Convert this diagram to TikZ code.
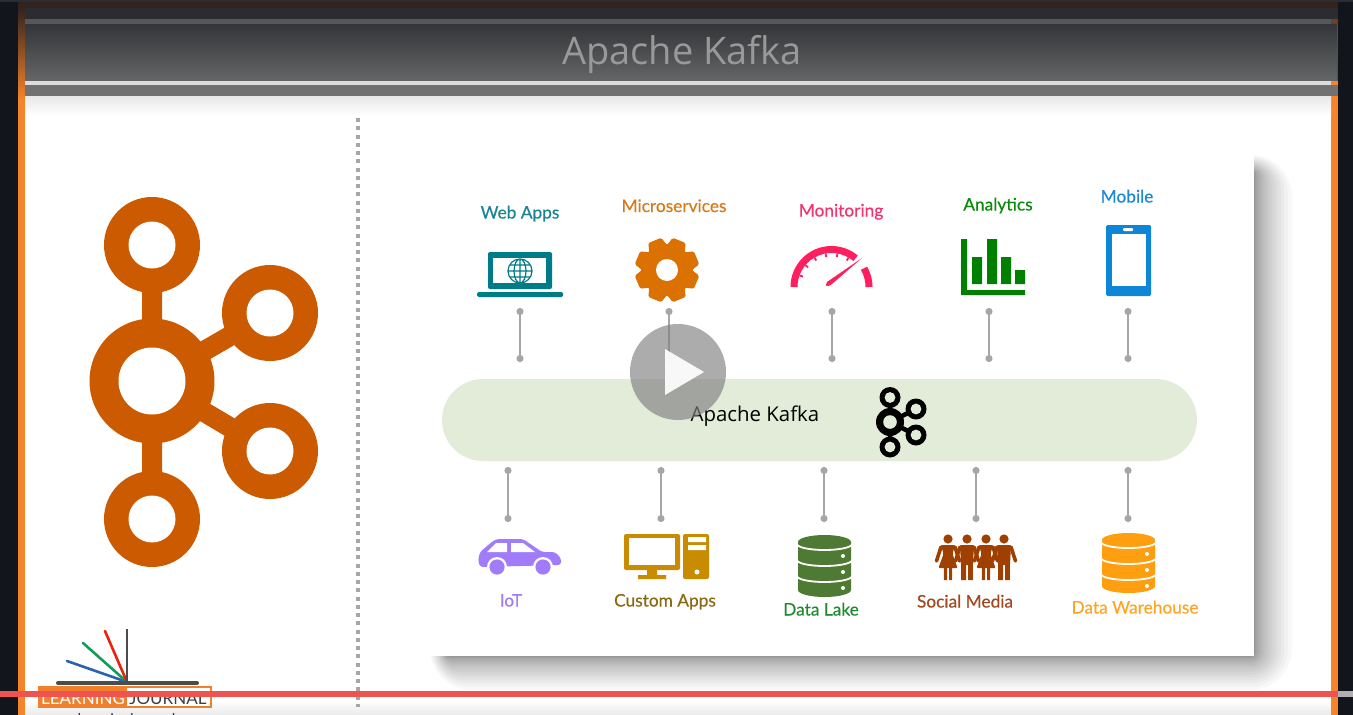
\documentclass[tikz,border=0pt]{standalone}
\usepackage{fontspec}
\setmainfont{Lato}
\newfontfamily\titlefont{Open Sans}
\newfontfamily\lblfont[FakeBold=0.3]{Lato}
\usetikzlibrary{arrows.meta}
\definecolor{kafkaor}{HTML}{CB5A00}
\definecolor{frameor}{HTML}{F5842B}
\definecolor{darkbg}{HTML}{12161C}
\definecolor{topbrown}{HTML}{33231F}
\definecolor{hdra}{HTML}{2A2C30}
\definecolor{hdrb}{HTML}{55575A}
\definecolor{hdrc}{HTML}{333538}
\definecolor{hdrd}{HTML}{656667}
\definecolor{hdre}{HTML}{DDDDDD}
\definecolor{hdrf}{HTML}{707170}
\definecolor{hdrg}{HTML}{6B4A35}
\definecolor{pillgr}{HTML}{E2ECD9}
\definecolor{linkgr}{HTML}{A6A6A6}
\definecolor{cteal}{HTML}{007C89}
\definecolor{cgear}{HTML}{DB7100}
\definecolor{cpink}{HTML}{FF1F5F}
\definecolor{cgreen}{HTML}{008000}
\definecolor{cblue}{HTML}{0D86D8}
\definecolor{ccar}{HTML}{A07CFB}
\definecolor{cpc}{HTML}{C98B00}
\definecolor{clake}{HTML}{4F7A33}
\definecolor{cpeople}{HTML}{A04000}
\definecolor{cware}{HTML}{FF9F0F}
\definecolor{twebapps}{HTML}{1A8494}
\definecolor{tmicro}{HTML}{D97A1A}
\definecolor{tmon}{HTML}{F5326E}
\definecolor{tana}{HTML}{0A8A0A}
\definecolor{tmob}{HTML}{1A8AD4}
\definecolor{tcust}{HTML}{8A6A10}
\definecolor{tlake}{HTML}{1E8A2E}
\definecolor{tsoc}{HTML}{A0481E}
\definecolor{tware}{HTML}{FFA522}
\definecolor{jblue}{HTML}{2A63AD}
\definecolor{jgreen}{HTML}{0F9D58}
\definecolor{jred}{HTML}{E8220F}
\definecolor{jor}{HTML}{F0802C}
\definecolor{barred}{HTML}{EF5350}
\definecolor{bargray}{HTML}{B0B0B4}
\definecolor{urlblue}{HTML}{1F3A5F}
\tikzset{
  lbl/.style={anchor=base,font=\lblfont\fontsize{17.3}{20}\selectfont,inner sep=0pt},
  link/.style={draw=linkgr,line width=2pt,{Circle[length=7pt,width=7pt]}-{Circle[length=7pt,width=7pt]},shorten >=-3pt,shorten <=-3pt},
  kfk/.style={line width=20pt,draw=kafkaor},
  skfk/.style={line width=4.5pt,draw=black},
}
\newcommand{\dbicon}[6]{% cx top rx bottom colour dotx
  \fill[#5] (#1-#3,#2+7) arc[start angle=180,end angle=360,x radius=#3,y radius=7]
    -- (#1+#3,#4-7) arc[start angle=0,end angle=180,x radius=#3,y radius=7] -- cycle;
  \pgfmathsetmacro{\sa}{#2+9}\pgfmathsetmacro{\sb}{#2+25}\pgfmathsetmacro{\sc}{#2+41}
  \foreach \yy in {\sa,\sb,\sc}{
    \draw[white,line width=1.8pt] (#1-#3-1,\yy) arc[start angle=180,end angle=0,x radius=#3+1,y radius=6];
  }
  \foreach \dd in {0,16,32}{ \fill[white] (#6,#2+21+\dd) circle[radius=2]; }
}
\newcommand{\figarms}[1]{%
  \fill[cpeople] (#1,539) circle[radius=4.6];
  \draw[cpeople,line width=3.6pt,line cap=round] (#1-7,547) -- (#1-11.5,561) (#1+7,547) -- (#1+11.5,561);
}
\newcommand{\figwoman}[1]{%
  \figarms{#1}
  \fill[cpeople,rounded corners=1pt] (#1-7,545) -- (#1+7,545) -- (#1+4.5,554) -- (#1+9.5,568) -- (#1-9.5,568) -- (#1-4.5,554) -- cycle;
  \fill[cpeople] (#1-4.2,567) rectangle (#1-1,580) (#1+1,567) rectangle (#1+4.2,580);
}
\newcommand{\figman}[1]{%
  \figarms{#1}
  \fill[cpeople,rounded corners=1pt] (#1-7,545) -- (#1+7,545) -- (#1+6,565) -- (#1-6,565) -- cycle;
  \fill[cpeople] (#1-5.8,563) rectangle (#1-1,580) (#1+1,563) rectangle (#1+5.8,580);
}
\begin{document}
\begin{tikzpicture}[x=1pt,y=-1pt]
\useasboundingbox (0,0) rectangle (1353,715);
\clip (0,0) rectangle (1353,715);
% page
\fill[white] (0,0) rectangle (1353,715);
\shade[top color=white,bottom color=black!8] (25,700) rectangle (1331,715);
\fill[darkbg] (0,0) rectangle (18,715);
\fill[darkbg] (1338,0) rectangle (1353,715);
\fill[frameor] (18,100) rectangle (25,715);
\fill[frameor] (1331,96) rectangle (1338,715);
\shade[top color=topbrown,bottom color=frameor] (18,8) rectangle (25,100);
\fill[topbrown] (18,2) rectangle (1338,8);
\fill[darkbg!90!white] (0,0) rectangle (1353,2);
% header
\fill[hdra] (25,8) rectangle (1338,19);
\fill[hdrb] (25,19) rectangle (1331,24);
\fill[topbrown!70!frameor] (1331,19) rectangle (1338,24);
\shade[top color=hdrc,bottom color=hdrd] (25,24) rectangle (1337,81);
\fill[hdrg] (1337,24) rectangle (1338,81);
\fill[hdre] (25,81) rectangle (1331,85);
\fill[frameor] (1331,81) rectangle (1338,85);
\fill[hdrf] (25,85) rectangle (1338,96);
\shade[top color=black!9,bottom color=white] (25,96) rectangle (1331,116);
\node[font=\titlefont\fontsize{38}{40}\selectfont,text=black!40,inner sep=0pt] (title) at (682,54.5) {Apache Kafka};
% divider
\coordinate (divT) at (357.5,118);
\coordinate (divB) at (357.5,707);
\draw[black!35,line width=4pt,dash pattern=on 4pt off 4.25pt] (divT) -- (divB);
% big logo
\coordinate (kc) at (152,381);
\coordinate (kt) at (152,245);
\coordinate (kb) at (152,519);
\coordinate (kr1) at (270,313);
\coordinate (kr2) at (270,451);
\draw[kfk] (kc) -- (kt) (kc) -- (kb) (kc) -- (kr1) (kc) -- (kr2);
\foreach \p in {kt,kb,kr1,kr2}{
  \fill[kafkaor] (\p) circle[radius=48];
  \fill[white] (\p) circle[radius=23.5];
}
\fill[kafkaor] (kc) circle[radius=62.5];
\fill[white] (kc) circle[radius=33.5];
% card shadow
\foreach \k in {0,1,...,19}{
  \pgfmathsetmacro{\e}{38*(\k/19)*(\k/19)}
  \pgfmathsetmacro{\rc}{\e+4}
  \fill[black,fill opacity=0.026,rounded corners=\rc pt] (445-0.4*\e,170-0.4*\e) rectangle (1254+\e,656+0.9*\e);
}
\fill[white] (428,154) rectangle (1254,656);
% pill
\node[fill=pillgr,minimum width=755pt,minimum height=82pt,rounded corners=41pt,inner sep=0pt] (pill) at (819.5,420) {};
\node[font=\titlefont\fontsize{20.4}{24}\selectfont,text=black,inner sep=0pt] (pilltxt) at (755,416.5) {Apache Kafka};
% small logo
\coordinate (sc) at (890,422);
\coordinate (st) at (890,397.5);
\coordinate (sb) at (890,447);
\coordinate (sr1) at (916,409);
\coordinate (sr2) at (916,435);
\draw[skfk] (sc) -- (st) (sc) -- (sb) (sc) -- (sr1) (sc) -- (sr2);
\foreach \p in {st,sb,sr1,sr2}{
  \fill[black] (\p) circle[radius=10.5];
  \fill[pillgr] (\p) circle[radius=5.4];
}
\fill[black] (sc) circle[radius=14];
\fill[pillgr] (sc) circle[radius=6.8];
% connectors
\foreach \n/\x in {a/520,b/669,c/832,d/989,e/1128}{
  \coordinate (top\n1) at (\x,311);
  \coordinate (top\n2) at (\x,359);
  \draw[link] (top\n1) -- (top\n2);
}
\foreach \n/\x in {a/508,b/661,c/824,d/976,e/1128}{
  \coordinate (bot\n1) at (\x,470);
  \coordinate (bot\n2) at (\x,519);
  \draw[link] (bot\n1) -- (bot\n2);
}
% labels
\node[lbl,text=twebapps] (l1) at (520,218.5) {Web Apps};
\node[lbl,text=tmicro] (l2) at (674,212) {Microservices};
\node[lbl,text=tmon] (l3) at (841,216.5) {Monitoring};
\node[lbl,text=tana] (l4) at (998,210.5) {Analytics};
\node[lbl,text=tmob] (l5) at (1127,202.5) {Mobile};
\node[lbl,text=ccar] (l6) at (511,606.5) {IoT};
\node[lbl,text=tcust] (l7) at (665,606.5) {Custom Apps};
\node[lbl,text=tlake] (l8) at (821,615.5) {Data Lake};
\node[lbl,text=tsoc] (l9) at (965,607.5) {Social Media};
\node[lbl,text=tware] (l10) at (1135,613.5) {Data Warehouse};
% laptop
\fill[cteal,rounded corners=2pt] (488,252) rectangle (552,289);
\fill[white] (493,258) rectangle (546,283);
\fill[cteal,rounded corners=1.5pt] (477,292) rectangle (563,297);
\draw[cteal,line width=1.2pt] (520,271) circle[radius=12] (508,271) -- (532,271) (520,259) -- (520,283)
  (520,259) arc[start angle=-90,end angle=-270,x radius=6,y radius=12]
  (520,259) arc[start angle=-90,end angle=90,x radius=6,y radius=12]
  (510,265) -- (530,265) (510,277) -- (530,277);
% gear
\fill[cgear] (667,270) circle[radius=26];
\foreach \a in {0,45,...,315}{
  \fill[cgear,rotate around={\a+22.5:(667,270)},rounded corners=1.5pt] (660,238) -- (674,238) -- (678,252) -- (656,252) -- cycle;
}
\fill[white] (667,270) circle[radius=11];
% gauge
\draw[cpink,line width=7pt] (794,287) arc[start angle=180,end angle=310,radius=37.5];
\draw[cpink,line width=7pt] (864,268.25) arc[start angle=-30,end angle=0,radius=37.5];
\foreach \a in {160,140,120,100,80,60}{
  \draw[cpink,line width=1.8pt,shift={(831.5,287)}] (-\a:34) -- (-\a:30.5);
}
\fill[cpink] (862,258) -- (832,284) .. controls (826,288) and (825,286) .. (827,282) -- cycle;
% chart
\fill[cgreen] (961,239) rectangle (967,295) (961,290) rectangle (1025,295);
\fill[cgreen] (972,257) rectangle (982,284) (987,239) rectangle (997,284) (1001,257) rectangle (1011,284) (1015,270) rectangle (1025,284);
% mobile
\fill[cblue,rounded corners=1.5pt] (1106,225) rectangle (1151,296);
\fill[white] (1112,234) rectangle (1146,286);
\fill[white,rounded corners=1pt] (1123,228) rectangle (1133,231);
% car
\fill[ccar,rounded corners=3pt] (478,560) -- (480,552) -- (493,541) -- (497,539) -- (523,539) -- (542,552) -- (555,552) -- (561,558) -- (561,565) -- (480,567) -- cycle;
\fill[white] (487,552) -- (496,543) -- (507,543) -- (507,552) -- cycle;
\fill[white] (511,543) -- (523,543) -- (535,552) -- (511,552) -- cycle;
\foreach \x in {497,543}{
  \fill[white] (\x,567) circle[radius=10];
  \fill[ccar] (\x,567) circle[radius=7.6];
}
% computer
\fill[cpc,rounded corners=2pt] (624,534) rectangle (680,570);
\fill[white] (629,538) rectangle (675,565);
\fill[cpc] (647,570) rectangle (657,575) (638,575) rectangle (666,579);
\fill[cpc,rounded corners=2pt] (683,534) rectangle (709,579);
\fill[white] (688,537) rectangle (706,542) (688,545) rectangle (706,550);
\fill[white] (697,572) circle[radius=2.5];
% databases
\dbicon{824.5}{535}{26.5}{597}{clake}{843}
\dbicon{1128.5}{533}{26.5}{593}{cware}{1147}
% people
\figwoman{948}\figman{967}\figwoman{986}\figman{1004}
% play button
\node[circle,fill=black!50,fill opacity=0.65,minimum size=96pt,inner sep=0pt] (play) at (678,372) {};
\fill[white,fill opacity=0.92] (665,349) -- (704,372) -- (665,395) -- cycle;
% journal logo
\coordinate (jo) at (127,682);
\coordinate (jv) at (127,629);
\coordinate (jr) at (105,631);
\coordinate (jg) at (83,643);
\coordinate (jb) at (67,661);
\coordinate (jl) at (58,683);
\coordinate (je) at (197,683);
\draw[jblue,line width=2.6pt,line cap=round] (jb) -- (jo);
\draw[jgreen,line width=2.6pt,line cap=round] (jg) -- (jo);
\draw[jred,line width=2.6pt,line cap=round] (jr) -- (jo);
\draw[black!70,line width=2.6pt] (jv) -- (jo);
\draw[black!70,line width=4pt,line cap=round] (jl) -- (je);
\node[draw=jor,fill=white,line width=1.5pt,minimum width=172pt,minimum height=20pt,inner sep=0pt] (jbox) at (125,697) {};
\fill[jor] (39,687) rectangle (127,707);
\node[font=\fontsize{17}{19}\selectfont,text=white,inner sep=0pt] (jl1) at (83,698) {LEARNING};
\node[font=\fontsize{17}{19}\selectfont,text=black!75,inner sep=0pt] (jl2) at (168,698) {JOURNAL};
\node[anchor=base,font=\fontsize{15}{18}\selectfont,text=urlblue,inner sep=0pt] (url) at (124,724) {www.learningjournal.guru};
% red progress bar
\fill[barred] (0,691) rectangle (1338,697);
\fill[bargray] (1338,691) rectangle (1353,697);
\end{tikzpicture}
\end{document}
